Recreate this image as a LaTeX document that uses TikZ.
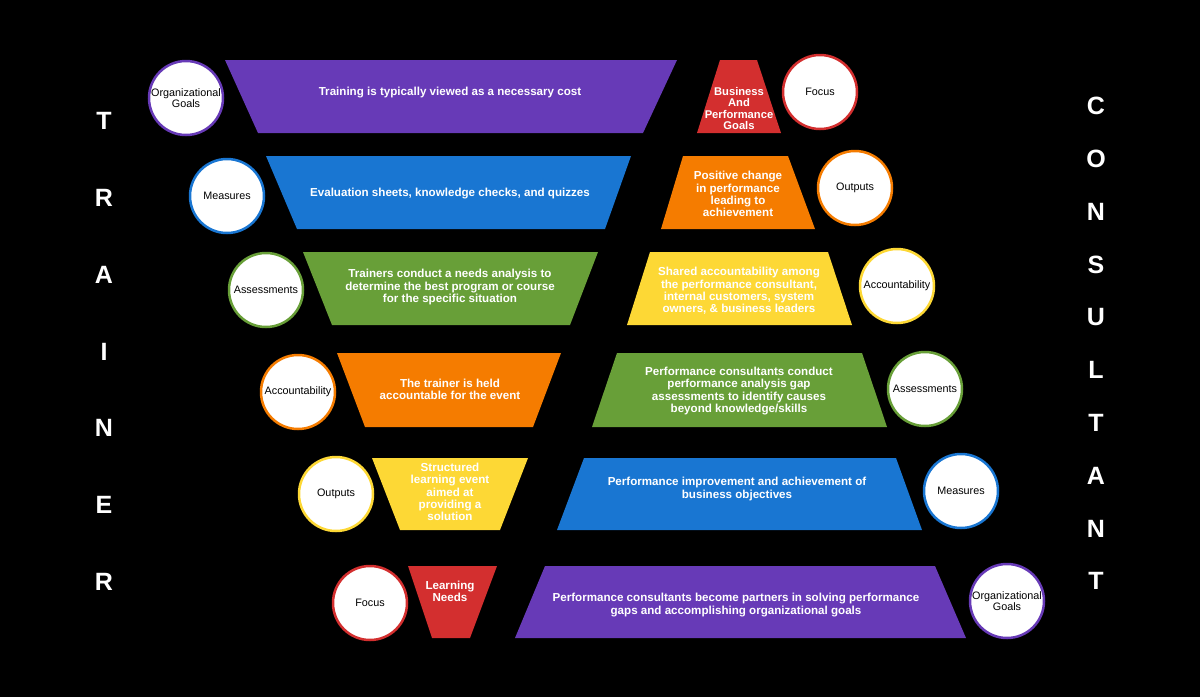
\documentclass[tikz,border=0pt]{standalone}
\usepackage{fontspec}
\setmainfont{Liberation Sans}
\definecolor{cpurple}{RGB}{103,58,183}
\definecolor{cblue}{RGB}{25,118,210}
\definecolor{cgreen}{RGB}{104,159,56}
\definecolor{corange}{RGB}{245,124,0}
\definecolor{cyellow}{RGB}{253,216,53}
\definecolor{cred}{RGB}{211,47,47}
\begin{document}
\begin{tikzpicture}[x=1pt,y=-1pt,
  lbl/.style={text=white, font=\bfseries\fontsize{11.6}{12.3}\selectfont, align=center, inner sep=0pt},
  circ/.style={circle, fill=white, draw=#1, line width=2.5pt, minimum size=74pt, inner sep=0pt,
    font=\fontsize{10.8}{11.5}\selectfont, text=black, align=center},
  letter/.style={text=white, font=\bfseries\fontsize{25}{25}\selectfont, inner sep=0pt}]
\fill[black] (0,0) rectangle (1200,697);
\useasboundingbox (0,0) rectangle (1200,697);

% TRAINER
\foreach \c [count=\i from 0] in {T,R,A,I,N,E,R}
  \node[letter] (tr\i) at (104,{121+76.8*\i}) {\c};
% CONSULTANT
\foreach \c [count=\i from 0] in {C,O,N,S,U,L,T,A,N,T}
  \node[letter] (co\i) at (1096,{106+52.8*\i}) {\c};

% Row 1
\fill[cpurple] (225,60) -- (677,60) -- (643,133) -- (258,133) -- cycle;
\node[lbl] (l1) at (450,93) {Training is typically viewed as a necessary cost};
\node[circ=cpurple] (c1l) at (186,98) {Organizational\\Goals};
\fill[cred] (720,60) -- (757,60) -- (781,133) -- (697,133) -- cycle;
\node[lbl, font=\bfseries\fontsize{11.2}{11.2}\selectfont] (r1) at (739,108.5) {Business\\And\\Performance\\Goals};
\node[circ=cred] (c1r) at (820,92) {Focus};

% Row 2
\fill[cblue] (266,156) -- (631,156) -- (605,229) -- (297,229) -- cycle;
\node[lbl] (l2) at (450,194) {Evaluation sheets, knowledge checks, and quizzes};
\node[circ=cblue] (c2l) at (227,196) {Measures};
\fill[corange] (683,156) -- (788,156) -- (815,229) -- (661,229) -- cycle;
\node[lbl] (r2) at (738,194) {Positive change\\in performance\\leading to\\achievement};
\node[circ=corange] (c2r) at (855,188) {Outputs};

% Row 3
\fill[cgreen] (303,252) -- (598,252) -- (570,325) -- (332,325) -- cycle;
\node[lbl] (l3) at (450,287) {Trainers conduct a needs analysis to\\determine the best program or course\\for the specific situation};
\node[circ=cgreen] (c3l) at (266,290) {Assessments};
\fill[cyellow] (650,252) -- (828,252) -- (852,325) -- (627,325) -- cycle;
\node[lbl] (r3) at (739,291) {Shared accountability among\\the performance consultant,\\internal customers, system\\owners, \& business leaders};
\node[circ=cyellow] (c3r) at (897,286) {Accountability};

% Row 4
\fill[corange] (337,353) -- (561,353) -- (533,427) -- (365,427) -- cycle;
\node[lbl] (l4) at (450,389) {The trainer is held\\accountable for the event};
\node[circ=corange] (c4l) at (298,392) {Accountability};
\fill[cgreen] (617,353) -- (862,353) -- (887,427) -- (592,427) -- cycle;
\node[lbl] (r4) at (739,391) {Performance consultants conduct\\performance analysis gap\\assessments to identify causes\\beyond knowledge/skills};
\node[circ=cgreen] (c4r) at (925,389) {Assessments};

% Row 5
\fill[cyellow] (372,458) -- (528,458) -- (500,530) -- (400,530) -- cycle;
\node[lbl] (l5) at (450,492) {Structured\\learning event\\aimed at\\providing a\\solution};
\node[circ=cyellow] (c5l) at (336,494) {Outputs};
\fill[cblue] (584,458) -- (896,458) -- (922,530) -- (557,530) -- cycle;
\node[lbl] (r5) at (737,489) {Performance improvement and achievement of\\business objectives};
\node[circ=cblue] (c5r) at (961,491) {Measures};

% Row 6
\fill[cred] (408,566) -- (497,566) -- (470,638) -- (432,638) -- cycle;
\node[lbl] (l6) at (450,591) {Learning\\Needs};
\node[circ=cred] (c6l) at (370,603) {Focus};
\fill[cpurple] (545,566) -- (935,566) -- (966,638) -- (515,638) -- cycle;
\node[lbl] (r6) at (736,605) {Performance consultants become partners in solving performance\\gaps and accomplishing organizational goals};
\node[circ=cpurple] (c6r) at (1007,601) {Organizational\\Goals};
\end{tikzpicture}
\end{document}
